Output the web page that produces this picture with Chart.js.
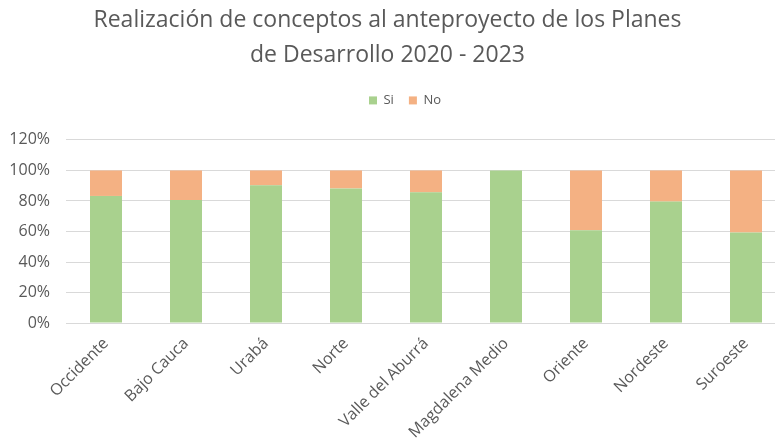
<!DOCTYPE html>
<html lang="es">
<head>
  <meta charset="UTF-8">
  <title>Planes de Desarrollo</title>
  <script src="https://cdn.jsdelivr.net/npm/chart.js"></script>
  <style>
    body { margin: 0; overflow: hidden; background: #fff; }
    .wrap { width: 786px; height: 441px; }
  </style>
</head>
<body>
  <div class="wrap"><canvas id="chart"></canvas></div>
  <script>
    const regiones = ["Occidente", "Bajo Cauca", "Urabá", "Norte", "Valle del Aburrá",
      "Magdalena Medio", "Oriente", "Nordeste", "Suroeste"];
    const si = [83.3, 80.6, 90.3, 88.2, 85.7, 100, 60.9, 79.6, 59.3];
    const no = [16.7, 19.4, 9.7, 11.8, 14.3, 0, 39.1, 20.4, 40.7];

    const gris = "#595959";

    // the plot runs past the visible page on the right, so keep
    // title centred on the visible 775px (legend sits a bit right, as in Excel)
    const fixLayout = {
      id: "fixLayout",
      beforeInit(chart) {
        const fit = chart.legend.fit;
        chart.legend.fit = function () {
          fit.bind(chart.legend)();
          this.height += 23;
        };
      },
      afterLayout(chart) {
        const t = chart.titleBlock;
        t.left = 0; t.right = 775; t.width = 775;
        const l = chart.legend;
        l.left = 35; l.right = 775; l.width = 740;
      }
    };

    new Chart(document.getElementById("chart"), {
      type: "bar",
      data: {
        labels: regiones,
        datasets: [
          { label: "Si", data: si, backgroundColor: "#A9D18E" },
          { label: "No", data: no, backgroundColor: "#F4B183" }
        ]
      },
      options: {
        responsive: true,
        maintainAspectRatio: false,
        animation: false,
        layout: { padding: { left: 10, right: 0, top: 0, bottom: 0 } },
        datasets: { bar: { categoryPercentage: 1, barPercentage: 0.4 } },
        plugins: {
          title: {
            display: true,
            text: ["Realización de conceptos al anteproyecto de los Planes", "de Desarrollo 2020 - 2023"],
            color: gris,
            font: { family: "Open Sans", size: 23, weight: "normal", lineHeight: 1.52 },
            padding: { top: 3, bottom: 6 }
          },
          legend: {
            labels: {
              color: gris,
              boxWidth: 8,
              boxHeight: 8,
              padding: 15,
              font: { family: "Open Sans", size: 13 }
            }
          },
          tooltip: { enabled: false }
        },
        scales: {
          x: {
            stacked: true,
            grid: { display: false },
            border: { color: "#D9D9D9" },
            afterFit(scale) {
              scale.paddingLeft = 0;
              scale.height -= 4;
            },
            ticks: {
              color: gris,
              minRotation: 45,
              maxRotation: 45,
              font: { family: "Open Sans", size: 16 }
            }
          },
          y: {
            stacked: true,
            min: 0,
            max: 120,
            afterFit(scale) { scale.width = 56; },
            ticks: {
              stepSize: 20,
              color: gris,
              padding: 16,
              font: { family: "Open Sans", size: 16 },
              callback: v => v + "%"
            },
            grid: { color: "#D9D9D9", drawTicks: false },
            border: { display: false }
          }
        }
      },
      plugins: [fixLayout]
    });
  </script>
</body>
</html>
